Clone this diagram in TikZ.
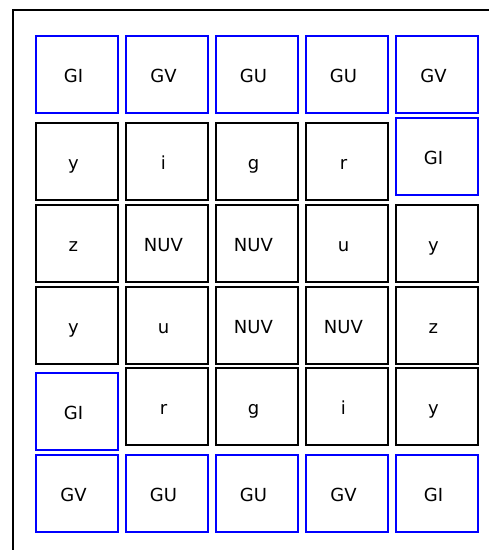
\documentclass[tikz,border=0pt]{standalone}
\usepackage{fontspec}
\setmainfont{DejaVu Sans}
\begin{document}
\begin{tikzpicture}[x=0.75pt,y=-0.75pt,
  bcell/.style={draw=blue, line width=1.2pt, minimum width=61.5pt, minimum height=57.75pt, inner sep=0pt, anchor=north west},
  kcell/.style={draw=black, line width=1.2pt, minimum width=61.5pt, minimum height=57.75pt, inner sep=0pt, anchor=north west},
  lab/.style={anchor=base, inner sep=0pt, font=\fontsize{13.5}{15}\selectfont},
  frame/.style={draw, line width=1.5pt}]
\useasboundingbox (0,0) rectangle (489,550);
\draw[frame] (13,570) -- (13,10) -- (510,10);
\foreach \col/\x/\cells in {
  1/35/{35/GI/bcell,122/y/kcell,204/z/kcell,286/y/kcell,372/GI/bcell,454/GV/bcell},
  2/125/{35/GV/bcell,122/i/kcell,204/NUV/kcell,286/u/kcell,367/r/kcell,454/GU/bcell},
  3/215/{35/GU/bcell,122/g/kcell,204/NUV/kcell,286/NUV/kcell,367/g/kcell,454/GU/bcell},
  4/305/{35/GU/bcell,122/r/kcell,204/u/kcell,286/NUV/kcell,367/i/kcell,454/GV/bcell},
  5/395/{35/GV/bcell,117/GI/bcell,204/y/kcell,286/z/kcell,367/y/kcell,454/GI/bcell}}{
  \foreach \t/\txt/\st [count=\r] in \cells {
    \node[style=\st] (b\col-\r) at (\x,\t) {};
    \node[lab] (t\col-\r) at ([xshift=-2.5pt,yshift=-6.2pt]b\col-\r.center) {\txt};
  }
}
\end{tikzpicture}
\end{document}
